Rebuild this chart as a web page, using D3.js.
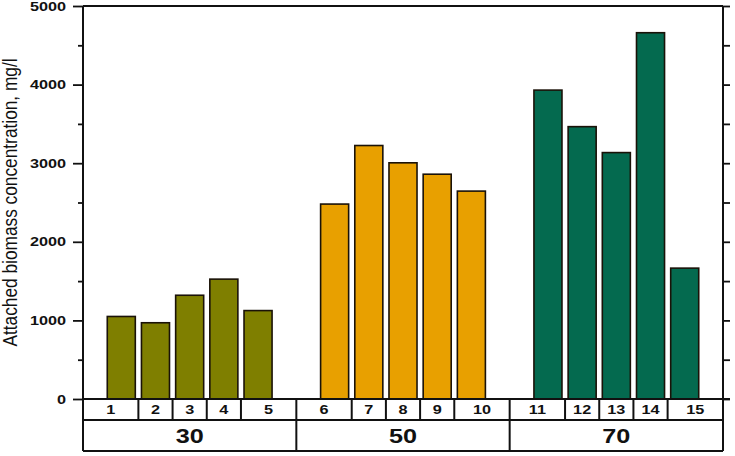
<!DOCTYPE html>
<html>
<head>
<meta charset="utf-8">
<script src="https://cdn.jsdelivr.net/npm/d3@7"></script>
<style>
  html, body { margin: 0; padding: 0; background: #ffffff; }
  svg { display: block; font-family: "Liberation Sans", Arial, sans-serif; }
</style>
</head>
<body>
<svg id="chart" width="735" height="456"></svg>
<script>
// ---- data ----
const groups = ["30", "50", "70"];
const samples = ["1","2","3","4","5","6","7","8","9","10","11","12","13","14","15"];
const sampleGroup = ["30","30","30","30","30","50","50","50","50","50","70","70","70","70","70"];
const biomass = [1050, 970, 1320, 1525, 1125, 2480, 3225, 3005, 2860, 2645, 3930, 3465, 3135, 4660, 1665];
const majorTicks = [0, 1000, 2000, 3000, 4000, 5000];
const minorTicks = [500, 1500, 2500, 3500, 4500];
const yTitle = "Attached biomass concentration, mg/l";

// ---- layout ----
const svg = d3.select("#chart");
const L = 83, R = 723, T = 6, B = 399;
const row1 = 420, row2 = 451;
const stretch = 1.3;

const y = d3.scaleLinear().domain([0, 5000]).range([B, T]);
const x0 = d3.scaleBand().domain(groups).range([L, R]).padding(0);
const x1 = d3.scaleBand().domain([0,1,2,3,4]).range([0, x0.bandwidth()])
  .paddingInner(0.18).paddingOuter(0.71);
const color = d3.scaleOrdinal().domain(groups).range(["#7f7f00", "#e8a000", "#046a4f"]);

const data = biomass.map((v, i) => ({ v, label: samples[i], g: sampleGroup[i], k: i % 5 }));
const barX = d => x0(d.g) + x1(d.k);

// bars
svg.append("g").selectAll("rect").data(data).join("rect")
  .attr("x", barX)
  .attr("y", d => y(d.v))
  .attr("width", x1.bandwidth())
  .attr("height", d => y(0) - y(d.v))
  .attr("fill", d => color(d.g))
  .attr("stroke", "#1a1208")
  .attr("stroke-width", 1.6);

// left axis (major + minor)
const leftMajor = svg.append("g").attr("transform", `translate(${L},0)`)
  .call(d3.axisLeft(y).tickValues(majorTicks).tickSize(10).tickFormat(d3.format("d")));
const leftMinor = svg.append("g").attr("transform", `translate(${L},0)`)
  .call(d3.axisLeft(y).tickValues(minorTicks).tickSize(5).tickFormat(""));
// right axis
const rightMajor = svg.append("g").attr("transform", `translate(${R},0)`)
  .call(d3.axisRight(y).tickValues(majorTicks.concat(minorTicks)).tickSize(7).tickFormat(""));

[leftMajor, leftMinor, rightMajor].forEach(g => {
  g.select(".domain").remove();
  g.selectAll(".tick line").attr("stroke", "#111").attr("stroke-width", 1.8);
});
leftMajor.selectAll(".tick text")
  .attr("x", -17 / stretch)
  .attr("transform", `scale(${stretch},1)`)
  .attr("font-size", 12.5)
  .attr("font-weight", "bold")
  .attr("fill", "#111")
  .attr("font-family", "'Liberation Sans', Arial, sans-serif");

// frame lines
const frame = svg.append("g").attr("stroke", "#111").attr("stroke-width", 2).attr("fill", "none");
frame.append("line").attr("x1", L).attr("x2", L).attr("y1", T).attr("y2", row2);
frame.append("line").attr("x1", R).attr("x2", R).attr("y1", T).attr("y2", row2);
frame.append("line").attr("x1", L).attr("x2", R).attr("y1", T).attr("y2", T);
frame.append("line").attr("x1", L).attr("x2", R + 7).attr("y1", B).attr("y2", B);
frame.append("line").attr("x1", L).attr("x2", R).attr("y1", row1).attr("y2", row1);
frame.append("line").attr("x1", L).attr("x2", R).attr("y1", row2).attr("y2", row2);

// group separators
frame.selectAll("line.gsep").data(groups.slice(1)).join("line").attr("class", "gsep")
  .attr("x1", d => x0(d)).attr("x2", d => x0(d)).attr("y1", B).attr("y2", row2);

// sample cell separators (midway between adjacent bars in a group)
const step = x1.step();
const gap = step - x1.bandwidth();
const cellSep = data.filter(d => d.k < 4);
frame.selectAll("line.csep").data(cellSep).join("line").attr("class", "csep")
  .attr("x1", d => barX(d) + x1.bandwidth() + gap / 2)
  .attr("x2", d => barX(d) + x1.bandwidth() + gap / 2)
  .attr("y1", B).attr("y2", row1);

// cell bounds for labels
function cellBounds(d) {
  const left = d.k === 0 ? x0(d.g) : barX(d) - gap / 2;
  const right = d.k === 4 ? x0(d.g) + x0.bandwidth() : barX(d) + x1.bandwidth() + gap / 2;
  return [left, right];
}

svg.append("g").selectAll("text").data(data).join("text")
  .attr("transform", d => { const b = cellBounds(d); return `translate(${(b[0] + b[1]) / 2},${(B + row1) / 2 + 4.5}) scale(${stretch},1)`; })
  .attr("text-anchor", "middle")
  .attr("font-size", 12.5)
  .attr("font-weight", "bold")
  .attr("fill", "#111")
  .text(d => d.label);

svg.append("g").selectAll("text").data(groups).join("text")
  .attr("transform", d => `translate(${x0(d) + x0.bandwidth() / 2},${(row1 + row2) / 2 + 7.5}) scale(1.2,1)`)
  .attr("text-anchor", "middle")
  .attr("font-size", 21)
  .attr("font-weight", "bold")
  .attr("fill", "#111")
  .text(d => d);

// y title
svg.append("text")
  .attr("transform", `translate(17,${(T + B) / 2}) rotate(-90) scale(1,1.15)`)
  .attr("text-anchor", "middle")
  .attr("font-size", 17.3)
  .attr("fill", "#111")
  .text(yTitle);
</script>
</body>
</html>
